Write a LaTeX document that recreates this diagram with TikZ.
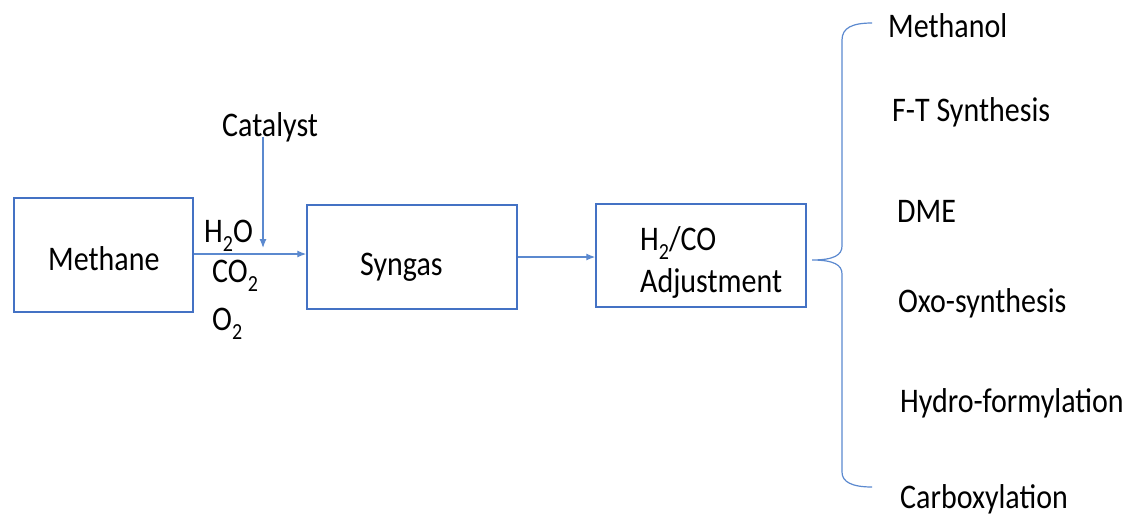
\documentclass[tikz,border=0pt]{standalone}
\usepackage{fontspec}
\setmainfont{Carlito}
\usetikzlibrary{arrows.meta}
\definecolor{boxblue}{RGB}{68,114,196}
\definecolor{lineblue}{RGB}{91,137,207}
\newcommand{\vst}[1]{\scalebox{1}[1.15]{#1}}
\newcommand{\sbs}[1]{\raisebox{-0.28em}{\fontsize{20}{24}\selectfont #1}}
\tikzset{
  procbox/.style={draw=boxblue, line width=1.5pt, inner sep=0pt, fill=none},
  txt/.style={inner sep=0pt, anchor=base west, font=\fontsize{30}{36}\selectfont},
  arr/.style={draw=lineblue, line width=1.2pt, -{Latex[length=9pt,width=7pt]}},
  bracestyle/.style={draw=lineblue, line width=1.2pt}
}
\begin{document}
\begin{tikzpicture}[x=1pt,y=-1pt]
\useasboundingbox (0,0) rectangle (1135,517);
% boxes
\node[procbox, minimum width=179pt, minimum height=114pt] (mbox) at (103.5,255) {};
\node[procbox, minimum width=210pt, minimum height=104pt] (sbox) at (412,257) {};
\node[procbox, minimum width=210pt, minimum height=103pt] (hbox) at (701,255.5) {};
% texts
\node[txt] (methane) at (48,270) {\vst{Methane}};
\node[txt] (h2o) at (204,242) {\vst{H\sbs{2}O}};
\node[txt] (co2) at (212,282) {\vst{CO\sbs{2}}};
\node[txt] (o2) at (212,330) {\vst{O\sbs{2}}};
\node[txt] (cat) at (222,136) {\vst{Catalyst}};
\node[txt] (syngas) at (360,275) {\vst{Syngas}};
\node[txt] (h2co) at (640,250) {\vst{H\sbs{2}/CO}};
\node[txt] (adj) at (640,292) {\vst{Adjustment}};
\node[txt] (p1) at (888,37) {\vst{Methanol}};
\node[txt] (p2) at (892,121) {\vst{F-T Synthesis}};
\node[txt] (p3) at (897,222) {\vst{DME}};
\node[txt] (p4) at (898,312) {\vst{Oxo-synthesis}};
\node[txt] (p5) at (900,412) {\vst{Hydro-formylation}};
\node[txt] (p6) at (900,508) {\vst{Carboxylation}};
% connectors
\coordinate (catin) at (263,248);
\draw[arr] ([yshift=-1pt]cat.base -| catin) -- (catin);
\draw[arr] (mbox.east |- 0,254) -- (sbox.west |- 0,254);
\draw[arr] (sbox.east |- 0,257) -- (hbox.west |- 0,257);
% brace
\coordinate (tip) at (812,260);
\coordinate (btop) at (872,23);
\coordinate (bbot) at (872,487);
\draw[bracestyle] (btop) .. controls (852,23) and (842,28) .. (842,40) -- (842,246)
  .. controls (842,255) and (834,260) .. (tip)
  .. controls (834,260) and (842,265) .. (842,274) -- (842,472)
  .. controls (842,482) and (852,487) .. (bbot);
\end{tikzpicture}
\end{document}
